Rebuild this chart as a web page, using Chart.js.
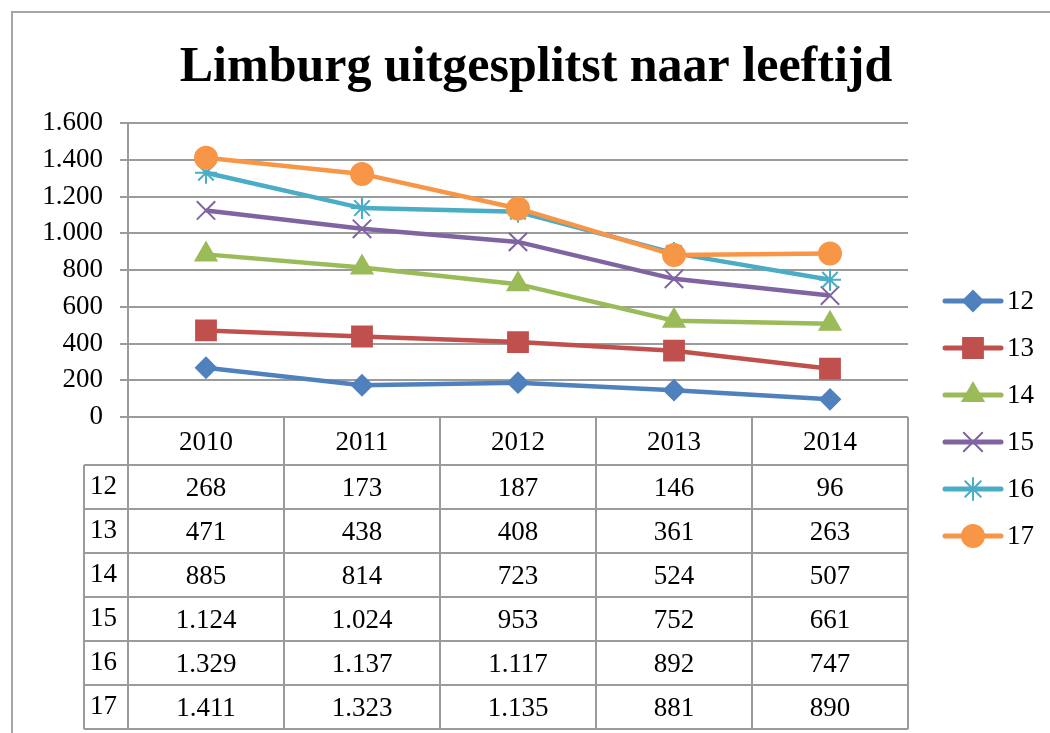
<!DOCTYPE html>
<html>
<head>
<meta charset="utf-8">
<script src="https://cdn.jsdelivr.net/npm/chart.js@4/dist/chart.umd.min.js"></script>
<style>
  html, body { margin: 0; padding: 0; background: #fff; }
</style>
</head>
<body>
<canvas id="lijn" width="1050" height="733"></canvas>
<script>
const years = ["2010", "2011", "2012", "2013", "2014"];
const ages = ["12", "13", "14", "15", "16", "17"];
const age12 = [268, 173, 187, 146, 96];
const age13 = [471, 438, 408, 361, 263];
const age14 = [885, 814, 723, 524, 507];
const age15 = [1124, 1024, 953, 752, 661];
const age16 = [1329, 1137, 1117, 892, 747];
const age17 = [1411, 1323, 1135, 881, 890];
const yTicks = [0, 200, 400, 600, 800, 1000, 1200, 1400, 1600];
const title = 'Limburg uitgesplitst naar leeftijd';

const series = [age12, age13, age14, age15, age16, age17];
const colors = ['rgb(79,129,189)', 'rgb(192,80,77)', 'rgb(155,187,89)', 'rgb(128,100,162)', 'rgb(75,172,198)', 'rgb(247,150,70)'];
const markers = ['rectRot', 'rect', 'triangle', 'crossRot', 'star', 'circle'];
const radii = [10, 14, 12, 13, 11, 11];

const serif = "'Liberation Serif', 'Times New Roman', serif";
const grey = 'rgb(155,155,155)';

// 1.600 style numbers
function fmt(v) {
  return String(v).replace(/\B(?=(\d{3})+(?!\d))/g, '.');
}

const frameAndTable = {
  id: 'frameAndTable',
  beforeDraw(chart) {
    const ctx = chart.ctx;
    ctx.save();
    ctx.fillStyle = '#fff';
    ctx.fillRect(0, 0, chart.width, chart.height);
    ctx.strokeStyle = 'rgb(165,165,165)';
    ctx.lineWidth = 2;
    ctx.beginPath();
    ctx.moveTo(12, chart.height);
    ctx.lineTo(12, 12);
    ctx.lineTo(chart.width, 12);
    ctx.stroke();

    // title, centred over the whole frame (legend included)
    ctx.fillStyle = '#000';
    ctx.font = 'bold 50px ' + serif;
    ctx.textAlign = 'center';
    ctx.textBaseline = 'alphabetic';
    ctx.fillText(title, 536, 81);
    ctx.restore();
  },
  afterDraw(chart) {
    const ctx = chart.ctx;
    const area = chart.chartArea;
    const n = years.length;
    const w = (area.right - area.left) / n;
    const top = area.bottom;
    const headBottom = top + 48;
    const rowH = 44;
    const bottom = headBottom + rowH * ages.length;
    const labelLeft = 84;

    ctx.save();
    ctx.strokeStyle = grey;
    ctx.lineWidth = 2;
    ctx.beginPath();
    for (let j = 0; j <= n; j++) {
      const x = area.left + j * w;
      ctx.moveTo(x, top);
      ctx.lineTo(x, bottom);
    }
    ctx.moveTo(labelLeft, headBottom);
    ctx.lineTo(labelLeft, bottom);
    for (let k = 0; k <= ages.length; k++) {
      const y = headBottom + k * rowH;
      ctx.moveTo(labelLeft, y);
      ctx.lineTo(area.right, y);
    }
    ctx.stroke();

    ctx.fillStyle = '#000';
    ctx.font = '27px ' + serif;
    ctx.textBaseline = 'middle';
    ctx.textAlign = 'center';
    const xs = chart.scales.x;
    years.forEach((yr, i) => {
      ctx.fillText(yr, xs.getPixelForValue(i), (top + headBottom) / 2 + 2);
    });
    series.forEach((vals, r) => {
      const cy = headBottom + r * rowH + rowH / 2 + 2;
      ctx.textAlign = 'left';
      ctx.fillText(ages[r], labelLeft + 6, cy - 2);
      ctx.textAlign = 'center';
      vals.forEach((v, i) => ctx.fillText(fmt(v), xs.getPixelForValue(i), cy));
    });

    // legend: line with marker
    const lx = 945, lw = 56, ly0 = 301, step = 47;
    ages.forEach((a, i) => {
      const y = ly0 + i * step;
      ctx.strokeStyle = colors[i];
      ctx.fillStyle = colors[i];
      ctx.lineWidth = 5;
      ctx.lineCap = 'round';
      ctx.beginPath();
      ctx.moveTo(lx, y);
      ctx.lineTo(lx + lw, y);
      ctx.stroke();
      ctx.lineWidth = 2;
      Chart.helpers.drawPoint(ctx, { pointStyle: markers[i], radius: radii[i], rotation: 0, borderWidth: 2 }, lx + lw / 2, y);
      ctx.fillStyle = '#000';
      ctx.textAlign = 'left';
      ctx.fillText(a, lx + lw + 6, y + 1);
    });
    ctx.restore();
  }
};

const chart = new Chart(document.getElementById('lijn').getContext('2d'), {
  type: 'line',
  data: {
    labels: years,
    datasets: series.map((vals, i) => ({
      label: ages[i],
      data: vals,
      borderColor: colors[i],
      backgroundColor: colors[i],
      borderWidth: 4.5,
      pointStyle: markers[i],
      pointRadius: radii[i],
      pointBorderWidth: 2,
      pointBorderColor: colors[i],
      pointBackgroundColor: colors[i],
      tension: 0,
      order: series.length - i
    }))
  },
  options: {
    responsive: false,
    animation: false,
    events: [],
    layout: { padding: { left: 12, right: 142, top: 123, bottom: 0 } },
    plugins: {
      legend: { display: false },
      tooltip: { enabled: false },
      title: { display: false }
    },
    scales: {
      x: {
        offset: true,
        ticks: { display: false },
        grid: { display: false },
        border: { display: false },
        afterFit: s => { s.height = 316; }
      },
      y: {
        min: 0,
        max: 1600,
        afterBuildTicks: s => { s.ticks = yTicks.map(v => ({ value: v })); },
        ticks: {
          color: '#000',
          font: { family: serif, size: 27 },
          padding: 17,
          callback: v => fmt(v)
        },
        grid: { color: grey, lineWidth: 2, tickLength: 8 },
        border: { color: grey, width: 2 },
        afterFit: s => { s.width = 116; }
      }
    }
  },
  plugins: [frameAndTable]
});
</script>
</body>
</html>
